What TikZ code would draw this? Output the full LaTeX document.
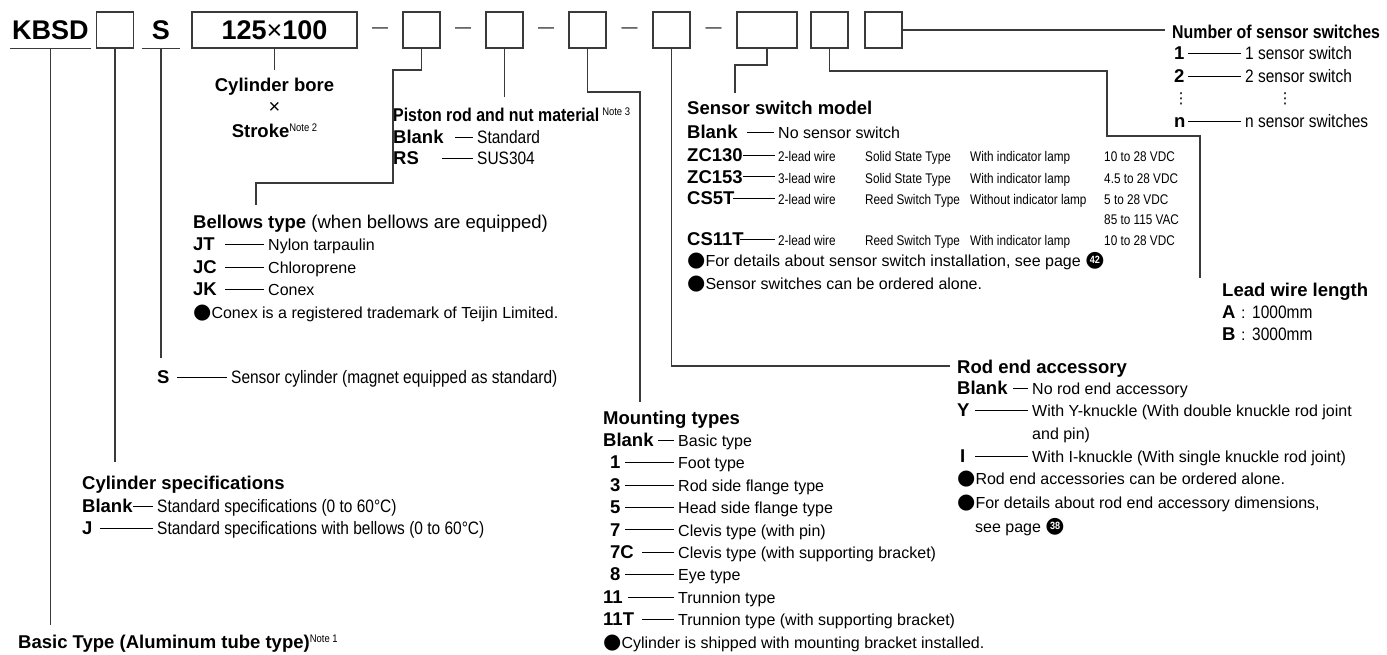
\documentclass[tikz,border=0pt]{standalone}
\usepackage{fontspec}
\setmainfont{Liberation Sans}
\newfontfamily\cnd[FakeStretch=0.86]{Liberation Sans}
\newfontfamily\tcnd[FakeStretch=0.84]{Liberation Sans}
\newfontfamily\djv{DejaVu Sans}
\usetikzlibrary{calc}
\definecolor{lc}{HTML}{3A3A3A}
\newcommand\fs[1]{\fontsize{#1}{#1}\selectfont}
\newcommand\bul{{\djv\fs{21}●}}
\newcommand\notesup[1]{\raisebox{6pt}{\cnd\mdseries\fs{11}#1}}
\newcommand\negc[1]{{\setbox0\hbox{\djv\fs{22}●}\setbox2\hbox{\cnd\bfseries\fs{10.5}\color{white}#1}\rlap{\copy0}\hbox to\wd0{\hss\raise\dimexpr(\ht0-\dp0-\ht2)/2\relax\box2\hss}}}
% list row: name, code x, baseline, code, desc x, desc style, desc, dash start x
\newcommand\lrow[8]{%
  \node[code] (#1c) at (#2,#3) {#4};
  \node[#6] (#1d) at (#5,#3) {#7};
  \draw[dsh] ($(#1c.base west)+({#8-#2},-6.3)$) -- ($(#1d.base west)+(-4,-6.3)$);}
% sensor table row: name, baseline, code, c1, c2, c3, c4, dash start x
\newcommand\srow[8]{%
  \node[code] (#1c) at (687,#2) {#3};
  \node[tbl] (#1a) at (778,#2) {#4};
  \node[tbl] (#1b) at (865,#2) {#5};
  \node[tbl] (#1e) at (970,#2) {#6};
  \node[tbl] (#1f) at (1104,#2) {#7};
  \draw[dsh] ($(#1c.base west)+({#8-687},-6.3)$) -- ($(#1a.base west)+(-3,-6.3)$);}
\tikzset{
  txt/.style={inner sep=0pt, anchor=base west, text=black},
  ttl/.style={txt, font=\bfseries\fs{18.5}},
  ttlc/.style={txt, font=\cnd\bfseries\fs{18.5}},
  code/.style={txt, font=\bfseries\fs{18.5}},
  dsc/.style={txt, font=\fs{16}},
  dscc/.style={txt, font=\cnd\fs{18}},
  tbl/.style={txt, font=\tcnd\fs{14}},
  big/.style={text=black, font=\bfseries\fs{27}},
  box/.style={draw=lc, line width=1.3pt, inner sep=0pt, minimum height=36pt},
  conn/.style={draw=lc, line width=1.1pt},
  dsh/.style={draw=black, line width=0.9pt},
  mdash/.style={inner sep=0pt, font=\fs{16}, text=black},
  dotg/.style={inner sep=0pt, font=\djv\fs{15}, text=black},
}
\begin{document}
\begin{tikzpicture}[x=1pt,y=-1pt]
\fill[white] (0,0) rectangle (1387,654);
\useasboundingbox (0,0) rectangle (1387,654);

% ---------- model code row ----------
\node[big, anchor=base, inner xsep=2pt, inner ysep=0pt, text depth=9pt] (kbsd) at (50.5,39.7) {KBSD};
\draw[conn] (kbsd.south west) -- (kbsd.south east);
\node[box, minimum width=37pt] (boxA) at (115,30) {};
\node[big, anchor=base, inner xsep=10pt, inner ysep=0pt, text depth=9pt] (sS) at (161,39.7) {S};
\draw[conn] (sS.south west) -- (sS.south east);
\node[box, minimum width=165pt, font=\bfseries\fs{27}] (boxB) at (274.5,30) {125{\mdseries×}100};
\node[box, minimum width=37pt] (boxC) at (421.5,30) {};
\node[box, minimum width=37pt] (boxD) at (504.5,30) {};
\node[box, minimum width=37pt] (boxE) at (587.5,30) {};
\node[box, minimum width=37pt] (boxF) at (671.5,30) {};
\node[box, minimum width=60pt] (boxG) at (767,30) {};
\node[box, minimum width=37pt] (boxH) at (829.5,30) {};
\node[box, minimum width=37pt] (boxI) at (883.5,30) {};
\node[mdash] (m1) at ($(boxB.east)!0.5!(boxC.west)$) {—};
\node[mdash] (m2) at ($(boxC.east)!0.5!(boxD.west)$) {—};
\node[mdash] (m3) at ($(boxD.east)!0.5!(boxE.west)$) {—};
\node[mdash] (m4) at ($(boxE.east)!0.5!(boxF.west)$) {—};
\node[mdash] (m5) at ($(boxF.east)!0.5!(boxG.west)$) {—};

% ---------- connectors ----------
\coordinate (kEnd) at (0,625);
\draw[conn] (kbsd.south) -- (kbsd.south |- kEnd);
\coordinate (aEnd) at (0,462);
\draw[conn] (boxA.south) -- (boxA.south |- aEnd);
\coordinate (sEnd) at (0,358);
\draw[conn] (sS.south) -- (sS.south |- sEnd);
\coordinate (bEnd) at (0,70);
\draw[conn] (boxB.south) -- (boxB.south |- bEnd);
\coordinate (c1) at (393,70); \coordinate (c2) at (256,183); \coordinate (c3) at (256,205);
\draw[conn] (boxC.south) |- (c1) |- (c2) -- (c3);
\coordinate (dEnd) at (0,97);
\draw[conn] (boxD.south) -- (boxD.south |- dEnd);
\coordinate (e1) at (640,92); \coordinate (e2) at (640,402);
\draw[conn] (boxE.south) |- (e1) -- (e2);
\coordinate (f1) at (950,366);
\draw[conn] (boxF.south) |- (f1);
\coordinate (g1) at (735,65); \coordinate (g2) at (735,93);
\draw[conn] (boxG.south) |- (g1) -- (g2);
\coordinate (h1) at (1107,71); \coordinate (h2) at (1200,136); \coordinate (h3) at (1200,278);
\draw[conn] (boxH.south) |- (h1) |- (h2) -- (h3);
\coordinate (i1) at (1165,30);
\draw[conn] (boxI.east) -- (i1);

% ---------- cylinder bore x stroke ----------
\node[ttl, anchor=base] (cb1) at (274.5,91.5) {Cylinder bore};
\node[inner sep=0pt, font=\fs{20}] (cb2) at (274.5,108) {×};
\node[ttl, anchor=base] (cb3) at (274.5,137.5) {Stroke\notesup{Note 2}};

% ---------- piston rod ----------
\node[ttlc] (pr) at (393,121.5) {Piston rod and nut material\,\notesup{Note 3}};
\lrow{p1}{393}{143.5}{Blank}{477}{dscc}{Standard}{455}
\lrow{p2}{393}{164.5}{RS}{477}{dscc}{SUS304}{442}

% ---------- sensor switch model ----------
\node[ttl] (ssm) at (687,114.5) {Sensor switch model};
\lrow{s0}{687}{138.5}{Blank}{778}{dsc}{No sensor switch}{747}
\srow{s1}{161.5}{ZC130}{2-lead wire}{Solid State Type}{With indicator lamp}{10 to 28 VDC}{743}
\srow{s2}{183}{ZC153}{3-lead wire}{Solid State Type}{With indicator lamp}{4.5 to 28 VDC}{743}
\srow{s3}{204.5}{CS5T}{2-lead wire}{Reed Switch Type}{Without indicator lamp}{5 to 28 VDC}{733}
\node[tbl] (s3g) at (1104,224) {85 to 115 VAC};
\srow{s4}{245.5}{CS11T}{2-lead wire}{Reed Switch Type}{With indicator lamp}{10 to 28 VDC}{740}
\node[dsc] (sn1) at (687,266) {\bul For details about sensor switch installation, see page \negc{42}.};
\node[dsc] (sn2) at (687,289) {\bul Sensor switches can be ordered alone.};

% ---------- number of sensor switches ----------
\node[ttlc] (nst) at (1172,38.5) {Number of sensor switches};
\lrow{n1}{1174}{59.5}{1}{1245}{dscc}{1 sensor switch}{1188}
\lrow{n2}{1174}{82.5}{2}{1245}{dscc}{2 sensor switch}{1188}
\node[dotg] (nd1) at (1181,99) {⋮};
\node[dotg] (nd2) at (1285,99) {⋮};
\lrow{nn}{1174}{127.5}{n}{1245}{dscc}{n sensor switches}{1188}

% ---------- lead wire length ----------
\node[ttl] (lwl) at (1222,296.5) {Lead wire length};
\node[code] (la) at (1222,318.5) {A};
\node[dsc] (lac) at (1241,318.5) {:};
\node[dscc] (lav) at (1252,318.5) {1000mm};
\node[code] (lb) at (1222,340.5) {B};
\node[dsc] (lbc) at (1241,340.5) {:};
\node[dscc] (lbv) at (1252,340.5) {3000mm};

% ---------- bellows ----------
\node[ttl] (bt) at (193,228.5) {Bellows type {\mdseries (when bellows are equipped)}};
\lrow{j1}{193}{250.5}{JT}{268}{dsc}{Nylon tarpaulin}{225}
\lrow{j2}{193}{273.5}{JC}{268}{dsc}{Chloroprene}{225}
\lrow{j3}{193}{295.5}{JK}{268}{dsc}{Conex}{225}
\node[dsc] (jn) at (193,318.5) {\bul Conex is a registered trademark of Teijin Limited.};

% ---------- sensor cylinder ----------
\lrow{sr}{157}{383.5}{S}{231}{dscc}{Sensor cylinder (magnet equipped as standard)}{177}

% ---------- cylinder specifications ----------
\node[ttl] (cs) at (82,489.5) {Cylinder specifications};
\lrow{cs1}{82}{512.5}{Blank}{157}{dscc}{Standard specifications (0 to 60°C)}{133}
\lrow{cs2}{82}{534.5}{J}{157}{dscc}{Standard specifications with bellows (0 to 60°C)}{100}

% ---------- basic type ----------
\node[ttl] (bas) at (18,648.5) {Basic Type (Aluminum tube type)\notesup{Note 1}};

% ---------- mounting types ----------
\node[ttl] (mt) at (603,424.5) {Mounting types};
\lrow{mt0}{603}{446.5}{Blank}{678}{dsc}{Basic type}{658}
\lrow{mt1}{610}{468.9}{1}{678}{dsc}{Foot type}{625}
\lrow{mt3}{610}{491.3}{3}{678}{dsc}{Rod side flange type}{625}
\lrow{mt5}{610}{513.7}{5}{678}{dsc}{Head side flange type}{625}
\lrow{mt7}{610}{536.1}{7}{678}{dsc}{Clevis type (with pin)}{625}
\lrow{mt7c}{610}{558.5}{7C}{678}{dsc}{Clevis type (with supporting bracket)}{642}
\lrow{mt8}{610}{580.9}{8}{678}{dsc}{Eye type}{625}
\lrow{mt11}{603}{603.3}{11}{678}{dsc}{Trunnion type}{628}
\lrow{mt11t}{603}{625.7}{11T}{678}{dsc}{Trunnion type (with supporting bracket)}{642}
\node[dsc] (mtn) at (603,648.1) {\bul Cylinder is shipped with mounting bracket installed.};

% ---------- rod end accessory ----------
\node[ttl] (re) at (957,373.5) {Rod end accessory};
\lrow{r1}{957}{394.5}{Blank}{1032}{dsc}{No rod end accessory}{1013}
\lrow{r2}{957}{416.5}{Y}{1032}{dsc}{With Y-knuckle (With double knuckle rod joint}{975}
\node[dsc] (r2b) at (1032,439.5) {and pin)};
\lrow{r3}{960}{462.5}{I}{1032}{dsc}{With I-knuckle (With single knuckle rod joint)}{975}
\node[dsc] (rn1) at (957,484.5) {\bul Rod end accessories can be ordered alone.};
\node[dsc] (rn2) at (957,508.5) {\bul For details about rod end accessory dimensions,};
\node[dsc] (rn3) at (975,532) {see page \negc{38}.};
\end{tikzpicture}
\end{document}
